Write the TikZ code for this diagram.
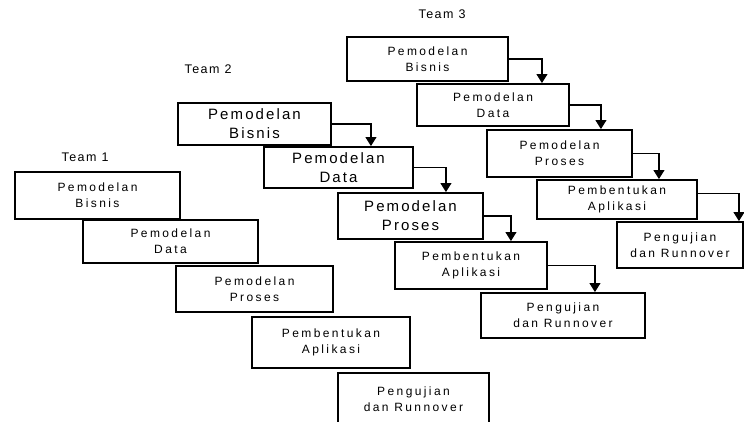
\documentclass[tikz,border=0pt]{standalone}
\usepackage{fontspec}
\usepackage{tikz}
\usetikzlibrary{arrows.meta}
\newfontfamily\boxfont[LetterSpace=20]{Liberation Sans}
\newfontfamily\bigfont[LetterSpace=14]{Liberation Sans}
\newfontfamily\teamfont[LetterSpace=12]{Liberation Sans}

\begin{document}
\begin{tikzpicture}[x=1pt,y=-1pt,
 box/.style={draw,line width=1.9pt,align=center,inner sep=0pt,font=\boxfont\fontsize{12}{16}\selectfont},
 bigbox/.style={box,font=\bigfont\fontsize{15}{19}\selectfont},
 team/.style={font=\teamfont\fontsize{12.5}{14}\selectfont},
 flow/.style={line width=1.1pt,-{Triangle[width=11pt,length=9pt]}}]
\clip (0,0) rectangle (744,421);
% team 1
\node[team] (t1) at (85,157) {Team 1};
\node[box,minimum width=165,minimum height=47] (b1) at (97.5,195.5) {Pemodelan\\Bisnis};
\node[box,minimum width=175,minimum height=43] (d1) at (170.5,241.5) {Pemodelan\\Data};
\node[box,minimum width=157,minimum height=46] (p1) at (254.5,289) {Pemodelan\\Proses};
\node[box,minimum width=158,minimum height=51] (a1) at (331,342.5) {Pembentukan\\Aplikasi};
\node[box,minimum width=151,minimum height=52] (u1) at (413.5,399) {Pengujian\\dan Runnover};
% team 2
\node[team] (t2) at (208,69) {Team 2};
\node[bigbox,minimum width=153,minimum height=42] (b2) at (254.5,124) {Pemodelan\\Bisnis};
\node[bigbox,minimum width=149,minimum height=41] (d2) at (338.5,167.5) {Pemodelan\\Data};
\node[bigbox,minimum width=145,minimum height=46] (p2) at (410.5,216) {Pemodelan\\Proses};
\node[box,minimum width=152,minimum height=47] (a2) at (471,265.5) {Pembentukan\\Aplikasi};
\node[box,minimum width=164,minimum height=45] (u2) at (563,315.5) {Pengujian\\dan Runnover};
\draw[flow] (b2.east) -- ++(39,0) coordinate (k) -- (k |- d2.north);
\draw[flow] (d2.east) -- ++(32,0) coordinate (k) -- (k |- p2.north);
\draw[flow] (p2.east) -- ++(27,0) coordinate (k) -- (k |- a2.north);
\draw[flow] (a2.east) -- ++(47,0) coordinate (k) -- (k |- u2.north);
% team 3
\node[team] (t3) at (442,14) {Team 3};
\node[box,minimum width=161,minimum height=44] (b3) at (427.5,59) {Pemodelan\\Bisnis};
\node[box,minimum width=152,minimum height=42] (d3) at (493,105) {Pemodelan\\Data};
\node[box,minimum width=145,minimum height=47] (p3) at (559.5,153.5) {Pemodelan\\Proses};
\node[box,minimum width=160,minimum height=39] (a3) at (617,199.5) {Pembentukan\\Aplikasi};
\node[box,minimum width=126,minimum height=46] (u3) at (680,245) {Pengujian\\dan Runnover};
\draw[flow] (b3.east) -- ++(33,0) coordinate (k) -- (k |- d3.north);
\draw[flow] (d3.east) -- ++(31,0) coordinate (k) -- (k |- p3.north);
\draw[flow] (p3.east) -- ++(26,0) coordinate (k) -- (k |- a3.north);
\draw[flow] ([yshift=6]a3.east) -- ++(41,0) coordinate (k) -- (k |- u3.north);
\end{tikzpicture}
\end{document}
